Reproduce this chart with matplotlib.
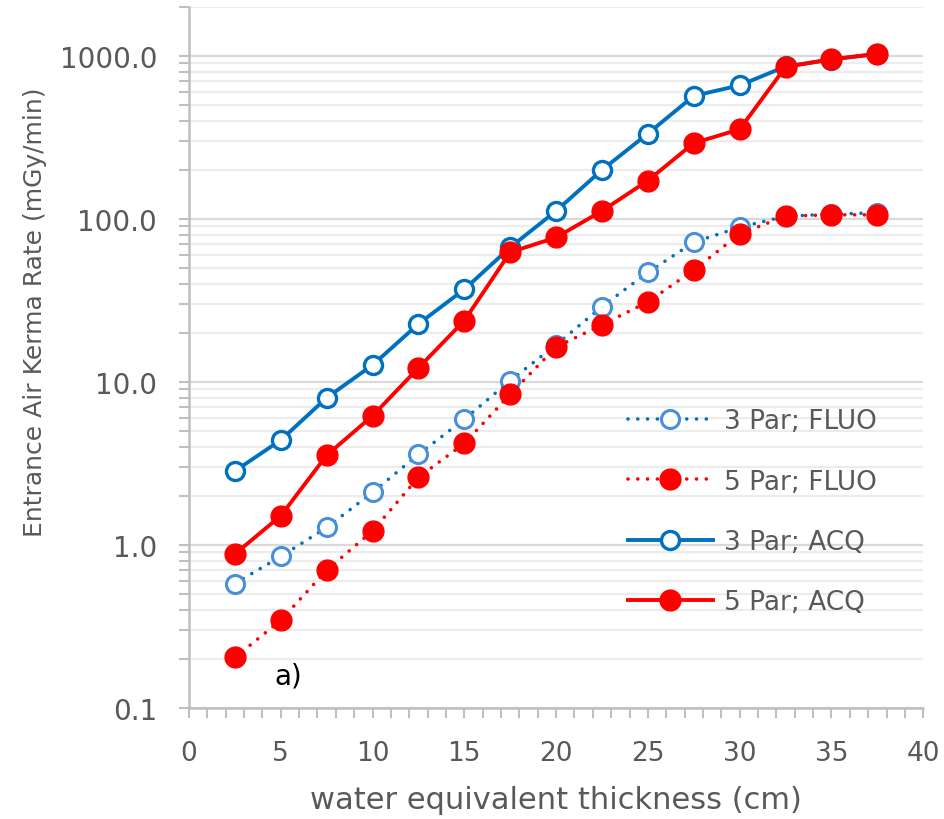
import numpy as np
import matplotlib
matplotlib.use("Agg")
import matplotlib.pyplot as plt
from matplotlib.ticker import FixedLocator, MultipleLocator, LogLocator, NullFormatter

plt.rcParams['font.family'] = ['DejaVu Sans']

# data (x in cm, y in mGy/min)
thickness = [2.5, 5, 7.5, 10, 12.5, 15, 17.5, 20, 22.5, 25, 27.5, 30, 32.5, 35, 37.5]
par3_fluo = [0.58, 0.85, 1.28, 2.1, 3.6, 5.9, 10.2, 16.9, 29, 47, 72, 89, 104, 107, 109]
par5_fluo = [0.204, 0.345, 0.70, 1.22, 2.6, 4.2, 8.4, 16.4, 22.4, 31, 48.6, 81, 104, 106, 106]
par3_acq = [2.84, 4.4, 8.0, 12.7, 22.7, 37, 67, 112, 200, 334, 569, 660, 862, 950, 1030]
par5_acq = [0.88, 1.51, 3.55, 6.2, 12.2, 23.8, 62.5, 77, 112, 172, 292, 355, 856, 955, 1029]

series_labels = ['3 Par; FLUO', '5 Par; FLUO', '3 Par; ACQ', '5 Par; ACQ']
ytick_vals = [0.1, 1, 10, 100, 1000]
ytick_labels = ['0.1', '1.0', '10.0', '100.0', '1000.0']

BLUE = '#0070C0'
LIGHTBLUE = '#4A90D9'
RED = '#FF0000'
GREY = '#595959'
dots = (0, (0.01, 2.7))

fig = plt.figure(figsize=(9.45, 8.2), dpi=100)
ax = fig.add_axes([0.2, 0.1354, 0.777, 0.855])

ax.plot(thickness, par3_fluo, color=BLUE, lw=2.6, linestyle=dots, dash_capstyle='round',
        marker='o', ms=13, mfc='white', mec=LIGHTBLUE, mew=2.2, label=series_labels[0], zorder=3)
ax.plot(thickness, par5_fluo, color=RED, lw=2.6, linestyle=dots, dash_capstyle='round',
        marker='o', ms=15, mfc=RED, mec=RED, label=series_labels[1], zorder=4)
ax.plot(thickness, par3_acq, color=BLUE, lw=2.8, marker='o', ms=13, mfc='white',
        mec=BLUE, mew=2.4, label=series_labels[2], zorder=5)
ax.plot(thickness, par5_acq, color=RED, lw=2.8, marker='o', ms=15, mfc=RED, mec=RED,
        label=series_labels[3], zorder=6)

ax.set_yscale('log')
ax.set_ylim(0.1, 2000)
ax.set_xlim(0, 40)

ax.yaxis.set_major_locator(FixedLocator(ytick_vals))
ax.set_yticklabels(ytick_labels)
ax.yaxis.set_minor_locator(LogLocator(base=10, subs=np.arange(2, 10)))
ax.yaxis.set_minor_formatter(NullFormatter())
ax.xaxis.set_major_locator(MultipleLocator(5))
ax.xaxis.set_minor_locator(MultipleLocator(1))

ax.grid(True, which='major', axis='y', color='#d9d9d9', lw=1.6, zorder=0)
ax.grid(True, which='minor', axis='y', color='#ececec', lw=1.6, zorder=0)
ax.set_axisbelow(True)

for side in ['top', 'right']:
    ax.spines[side].set_visible(False)
for side in ['left', 'bottom']:
    ax.spines[side].set_color('#bfbfbf')
    ax.spines[side].set_linewidth(1.8)

ax.tick_params(which='both', direction='out', color='#bfbfbf', width=1.5, length=7,
               labelcolor=GREY, labelsize=19)
ax.tick_params(axis='x', which='both', pad=16)
ax.tick_params(axis='y', which='both', pad=16, labelsize=20)

ax.set_xlabel('water equivalent thickness (cm)', fontsize=22, color=GREY, labelpad=14)
ax.set_ylabel('Entrance Air Kerma Rate (mGy/min)', fontsize=18, color=GREY)
ax.yaxis.set_label_coords(-0.193, 0.566)

ax.text(0.116, 0.035, 'a)', transform=ax.transAxes, fontsize=20, color='black')

leg = ax.legend(loc='center left', bbox_to_anchor=(0.58, 0.28), frameon=False,
                fontsize=19, handlelength=3.2, handletextpad=0.45, labelspacing=1.3,
                numpoints=1, borderpad=0)
for t in leg.get_texts():
    t.set_color(GREY)

fig.savefig('out.png', dpi=100)
